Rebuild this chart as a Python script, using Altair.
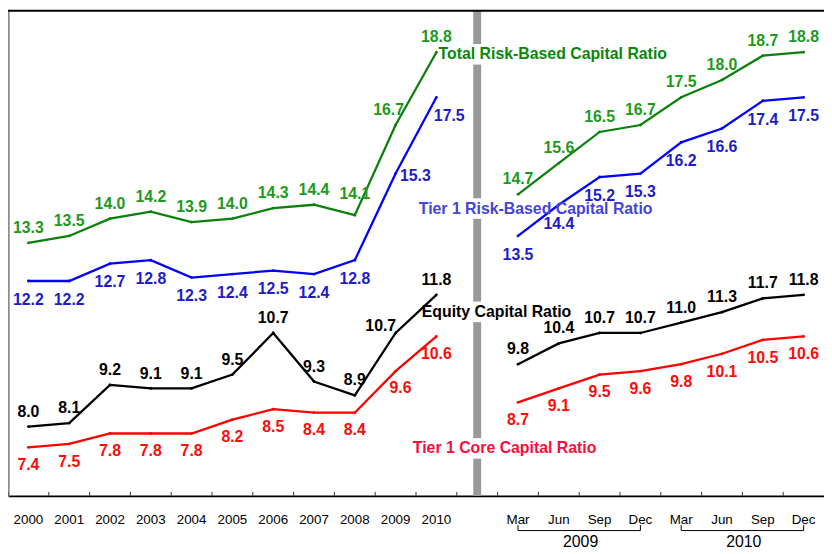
import altair as alt
import pandas as pd

# ---------------- data ----------------
years = ["2000", "2001", "2002", "2003", "2004", "2005", "2006", "2007", "2008", "2009", "2010"]
quarters = ["Mar 2009", "Jun 2009", "Sep 2009", "Dec 2009",
            "Mar 2010", "Jun 2010", "Sep 2010", "Dec 2010"]
gap = "gap"
categories = years + [gap] + quarters

series_names = ["Total Risk-Based Capital Ratio", "Tier 1 Risk-Based Capital Ratio",
                "Equity Capital Ratio", "Tier 1 Core Capital Ratio"]

total_annual = [13.3, 13.5, 14.0, 14.2, 13.9, 14.0, 14.3, 14.4, 14.1, 16.7, 18.8]
tier1_annual = [12.2, 12.2, 12.7, 12.8, 12.3, 12.4, 12.5, 12.4, 12.8, 15.3, 17.5]
equity_annual = [8.0, 8.1, 9.2, 9.1, 9.1, 9.5, 10.7, 9.3, 8.9, 10.7, 11.8]
core_annual = [7.4, 7.5, 7.8, 7.8, 7.8, 8.2, 8.5, 8.4, 8.4, 9.6, 10.6]

total_qtr = [14.7, 15.6, 16.5, 16.7, 17.5, 18.0, 18.7, 18.8]
tier1_qtr = [13.5, 14.4, 15.2, 15.3, 16.2, 16.6, 17.4, 17.5]
equity_qtr = [9.8, 10.4, 10.7, 10.7, 11.0, 11.3, 11.7, 11.8]
core_qtr = [8.7, 9.1, 9.5, 9.6, 9.8, 10.1, 10.5, 10.6]

# where the series names sit (value on the y scale, next to the separator)
series_label_values = [18.74, 14.29, 11.31, 7.37]

bracket_years = ["2009", "2010"]
bracket_start = ["Mar 2009", "Mar 2010"]
bracket_end = ["Dec 2009", "Dec 2010"]
bracket_mid = ["Jun 2009", "Jun 2010"]

# ---------------- styles ----------------
W, H = 824, 490
FONT = "Liberation Sans"
line_colors = ["#0c800c", "#0000ff", "#000000", "#ff0000"]
value_colors = ["#1c9a1c", "#1c1cc8", "#000000", "#ff0a0a"]
name_colors = ["#0a870a", "#4444d8", "#000000", "#ff0a3c"]
name_dx = [-39, -59, -56, -65]
default_offsets = [(0, -15), (0, 19), (0, -15), (0, 18)]
nudges = {
    (0, "2009"): (-7, -15),
    (0, "2008"): (0, -21),
    (1, "2009"): (20, 3),
    (1, "2010"): (13, 19),
    (2, "2009"): (-15, -7),
    (3, "2009"): (5, 17),
}

annual_lists = [total_annual, tier1_annual, equity_annual, core_annual]
qtr_lists = [total_qtr, tier1_qtr, equity_qtr, core_qtr]

rows = []
for i, (name, ann, qtr) in enumerate(zip(series_names, annual_lists, qtr_lists)):
    for c, v in zip(years, ann):
        rows.append(dict(idx=i, series=name, cat=c, value=v, segment="annual"))
    for c, v in zip(quarters, qtr):
        rows.append(dict(idx=i, series=name, cat=c, value=v, segment="quarterly"))
df = pd.DataFrame(rows)

xscale = alt.Scale(type="band", domain=categories, paddingInner=0, paddingOuter=0)
yscale = alt.Scale(domain=[6, 20], nice=False, zero=False)

x_axis = alt.Axis(title=None, domainColor="black", domainWidth=2, ticks=False,
                  labelFont=FONT, labelFontSize=13.5, labelColor="#000000",
                  labelAngle=0, labelPadding=17, grid=False,
                  labelExpr="datum.label == 'gap' ? '' : split(datum.label, ' ')[0]")
y_axis = alt.Axis(title=None, domainColor="#8c8c8c", domainWidth=2.5, labels=False,
                  ticks=False, grid=False)


def X(field="cat", **kw):
    return alt.X(f"{field}:N", scale=xscale, axis=x_axis, sort=categories, **kw)


def Y(field="value"):
    return alt.Y(f"{field}:Q", scale=yscale, axis=y_axis)


color_scale = alt.Scale(domain=series_names, range=line_colors)

layers = []

# separator bar
df_gap = pd.DataFrame({"cat": [gap]})
layers.append(alt.Chart(df_gap).mark_rule(color="#999999", strokeWidth=8).encode(
    x=X(), y=alt.value(0), y2=alt.value(H)))

# inward ticks at band boundaries
df_cats = pd.DataFrame({"cat": categories})
layers.append(alt.Chart(df_cats).mark_rule(color="#333333", strokeWidth=1).encode(
    x=X(bandPosition=0), y=alt.value(H - 4), y2=alt.value(H)))

# top border
df_one = pd.DataFrame({"a": [0]})
layers.append(alt.Chart(df_one).mark_rule(color="black", strokeWidth=2).encode(
    x=alt.value(0), x2=alt.value(W), y=alt.value(0)))

# lines
layers.append(alt.Chart(df).mark_line(strokeWidth=2.3).encode(
    x=X(), y=Y(),
    color=alt.Color("series:N", scale=color_scale, legend=None),
    detail="segment:N"))
layers.append(alt.Chart(df).mark_point(filled=True, size=8, opacity=1).encode(
    x=X(), y=Y(),
    color=alt.Color("series:N", scale=color_scale, legend=None)))

# value labels
for i in range(4):
    sub = df[df.idx == i]
    nudged = [c for (j, c) in nudges if j == i]
    base = sub[~sub.cat.isin(nudged)]
    dx, dy = default_offsets[i]
    layers.append(alt.Chart(base).mark_text(
        font=FONT, fontSize=16, fontWeight="bold", color=value_colors[i],
        baseline="middle", align="center", dx=dx, dy=dy).encode(
        x=X(), y=Y(), text=alt.Text("value:Q", format=".1f")))
    for c in nudged:
        ndx, ndy = nudges[(i, c)]
        layers.append(alt.Chart(sub[sub.cat == c]).mark_text(
            font=FONT, fontSize=16, fontWeight="bold", color=value_colors[i],
            baseline="middle", align="center", dx=ndx, dy=ndy).encode(
            x=X(), y=Y(), text=alt.Text("value:Q", format=".1f")))

# series names with white backing over the separator
df_names = pd.DataFrame({"cat": [gap] * 4, "value": series_label_values, "name": series_names})
layers.append(alt.Chart(df_names).mark_square(color="white", size=430, opacity=1,
                                              filled=True, strokeWidth=0).encode(
    x=X(), y=Y()))
for i in range(4):
    layers.append(alt.Chart(df_names.iloc[[i]]).mark_text(
        font=FONT, fontSize=16, fontWeight="bold", color=name_colors[i],
        align="left", baseline="middle", dx=name_dx[i]).encode(
        x=X(), y=Y(), text="name:N"))

# year brackets under quarterly axis
df_br = pd.DataFrame({"year": bracket_years, "start": bracket_start,
                      "end": bracket_end, "mid": bracket_mid})
layers.append(alt.Chart(df_br).mark_rule(color="black", strokeWidth=1).encode(
    x=X("start"), x2="end:N", y=alt.value(H + 35)))
layers.append(alt.Chart(df_br).mark_rule(color="black", strokeWidth=1).encode(
    x=X("start"), y=alt.value(H + 29.5), y2=alt.value(H + 35)))
layers.append(alt.Chart(df_br).mark_rule(color="black", strokeWidth=1).encode(
    x=X("end"), y=alt.value(H + 29.5), y2=alt.value(H + 35)))
layers.append(alt.Chart(df_br).mark_text(
    font=FONT, fontSize=16, color="black", align="center", baseline="middle", dx=22).encode(
    x=X("mid"), y=alt.value(H + 47), text="year:N"))

chart = alt.layer(*layers).properties(
    width=W, height=H,
    autosize=alt.AutoSizeParams(type="none"),
    padding={"left": 0, "top": 0, "right": 0, "bottom": 55},
).configure_view(stroke=None)

chart.save("out.html", embed_options={"renderer": "svg", "actions": False})
